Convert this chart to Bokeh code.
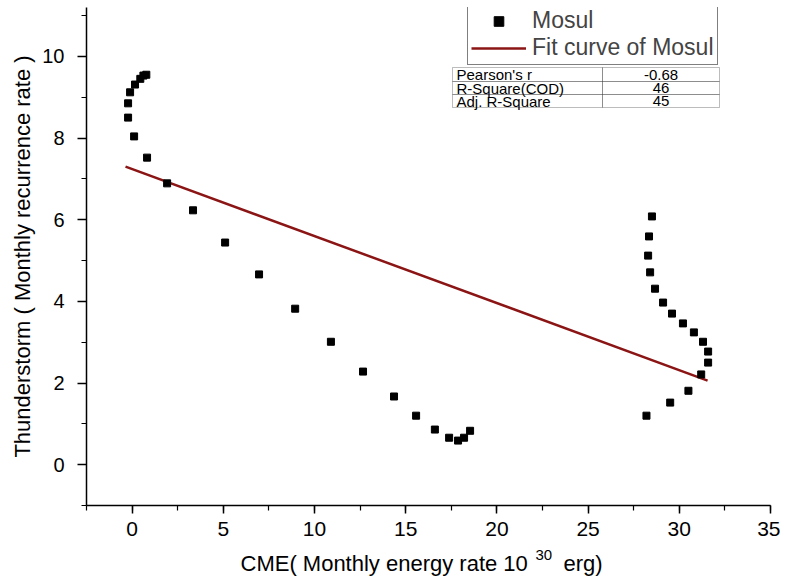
from bokeh.plotting import figure
from bokeh.models import (Range1d, SingleIntervalTicker, Legend, LegendItem,
                          BoxAnnotation, Label)
from bokeh.layouts import column
from bokeh.embed import file_html
from bokeh.resources import INLINE

# ---- data ----
cme = [0.45, 0.62, 0.78, 0.16, -0.11, -0.22, -0.22, 0.11, 0.82, 1.92, 3.34,
       5.10, 6.96, 8.94, 10.90, 12.66, 14.36, 15.57, 16.60, 17.38, 17.87,
       18.20, 18.53, 28.50, 28.34, 28.29, 28.40, 28.67, 29.11, 29.60, 30.20,
       30.80, 31.30, 31.58, 31.58, 31.20, 30.50, 29.50, 28.20]
thunder = [9.45, 9.53, 9.55, 9.31, 9.12, 8.85, 8.50, 8.04, 7.52, 6.89, 6.23,
           5.44, 4.66, 3.82, 3.01, 2.28, 1.67, 1.20, 0.86, 0.66, 0.59,
           0.66, 0.83, 6.08, 5.59, 5.12, 4.71, 4.31, 3.97, 3.70, 3.46,
           3.24, 3.01, 2.77, 2.50, 2.21, 1.81, 1.52, 1.20]
fit_x = [-0.36, 31.55]
fit_y = [7.30, 2.06]

stat_names = ["Pearson's r", "R-Square(COD)", "Adj. R-Square"]
stat_values = ["-0.68", "46", "45"]

x_label_main = "CME( Monthly energy rate 10"
x_label_sup = "30"
x_label_end = "erg)"
y_label = "Thunderstorm ( Monthly recurrence rate )"

FONT = "Liberation Sans"
W = 780

p = figure(frame_width=684, frame_height=498, output_backend="svg",
           toolbar_location=None,
           x_range=Range1d(-2.5, 35), y_range=Range1d(-1, 11.197),
           min_border_left=86, min_border_right=10, min_border_top=7,
           min_border_bottom=40)
p.outline_line_color = None
p.grid.visible = False
p.background_fill_color = "white"
p.border_fill_color = "white"

fit = p.line(fit_x, fit_y, line_color="#8b1414", line_width=2.5)
pts = p.scatter(cme, thunder, marker="square", size=7, fill_color="black",
                line_color="black")

p.xaxis.ticker = SingleIntervalTicker(interval=5, num_minor_ticks=2)
p.yaxis.ticker = SingleIntervalTicker(interval=2, num_minor_ticks=2)
for ax in (p.xaxis[0], p.yaxis[0]):
    ax.axis_line_color = "black"
    ax.axis_line_width = 1.5
    ax.major_tick_line_color = "black"
    ax.minor_tick_line_color = "black"
    ax.major_tick_line_width = 1.5
    ax.minor_tick_line_width = 1.2
    ax.major_tick_in = 0
    ax.minor_tick_in = 0
    ax.minor_tick_out = 5
    ax.major_label_text_font = FONT
    ax.major_label_text_color = "black"
p.xaxis.major_tick_out = 8
p.yaxis.major_tick_out = 9
p.xaxis.major_label_text_font_size = "21px"
p.yaxis.major_label_text_font_size = "20px"
p.xaxis.major_label_standoff = 8
p.yaxis.major_label_standoff = 13
p.yaxis.axis_label = y_label
p.yaxis.axis_label_text_font = FONT
p.yaxis.axis_label_text_font_size = "22px"
p.yaxis.axis_label_text_font_style = "normal"
p.yaxis.axis_label_text_color = "black"
p.yaxis.axis_label_standoff = 4

legend = Legend(items=[LegendItem(label="Mosul", renderers=[pts]),
                       LegendItem(label="Fit curve of Mosul", renderers=[fit])],
                location=(381, 440), orientation="vertical")
legend.label_text_font = FONT
legend.label_text_font_size = "23px"
legend.label_text_line_height = 0.9
legend.label_height = 24
legend.glyph_height = 24
legend.glyph_width = 55
legend.label_standoff = 6
legend.padding = 3
legend.spacing = 0
legend.margin = 0
legend.border_line_color = "black"
legend.border_line_width = 1.2
legend.background_fill_alpha = 1
p.add_layout(legend, "center")

# ---- statistics table (screen units relative to the plot frame) ----
col_l, col_m, col_r = 366, 516, 633
row_edges = [438, 424, 411, 398]
for i in range(3):
    top, bot = row_edges[i], row_edges[i + 1]
    for (l, r) in ((col_l, col_m), (col_m, col_r)):
        p.add_layout(BoxAnnotation(left=l, right=r, top=top, bottom=bot,
                                   left_units="screen", right_units="screen",
                                   top_units="screen", bottom_units="screen",
                                   fill_alpha=0, line_color="#222222",
                                   line_width=1))
    yc = (top + bot) / 2
    p.add_layout(Label(x=col_l + 4, y=yc, x_units="screen", y_units="screen",
                       text=stat_names[i], text_font=FONT,
                       text_font_size="15px", text_baseline="middle",
                       text_align="left", text_color="black"))
    p.add_layout(Label(x=(col_m + col_r) / 2, y=yc, x_units="screen",
                       y_units="screen", text=stat_values[i], text_font=FONT,
                       text_font_size="15px", text_baseline="middle",
                       text_align="center", text_color="black"))

# ---- x-axis title strip (real text with a raised superscript) ----
t = figure(width=W, height=32, output_backend="svg", toolbar_location=None,
           x_range=Range1d(0, 1), y_range=Range1d(0, 1), min_border=0,
           x_axis_location=None, y_axis_location=None)
t.outline_line_color = None
t.grid.visible = False
t.add_layout(Label(x=154, y=14, x_units="screen", y_units="screen",
                   text=x_label_main, text_font=FONT, text_font_size="22px",
                   text_align="left", text_baseline="alphabetic",
                   text_color="black"))
t.add_layout(Label(x=449, y=23, x_units="screen", y_units="screen",
                   text=x_label_sup, text_font=FONT, text_font_size="15px",
                   text_align="left", text_baseline="alphabetic",
                   text_color="black"))
t.add_layout(Label(x=477, y=14, x_units="screen", y_units="screen",
                   text=x_label_end, text_font=FONT, text_font_size="22px",
                   text_align="left", text_baseline="alphabetic",
                   text_color="black"))

layout = column(p, t, spacing=0)
open("out.html", "w").write(file_html(layout, INLINE))
